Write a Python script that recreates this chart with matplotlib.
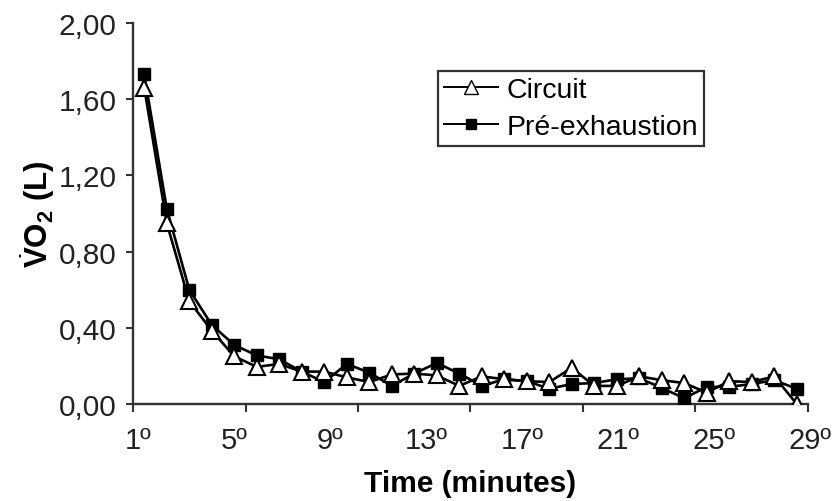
import numpy as np
import matplotlib
matplotlib.use("Agg")
import matplotlib.pyplot as plt
from matplotlib.lines import Line2D

plt.rcParams['font.family'] = ['Liberation Sans', 'DejaVu Sans']
plt.rcParams['mathtext.fontset'] = 'custom'
plt.rcParams['mathtext.rm'] = 'Liberation Sans'
plt.rcParams['mathtext.bf'] = 'Liberation Sans:bold'
plt.rcParams['mathtext.it'] = 'Liberation Sans:italic'

# minutes 1..30
minutes = np.arange(1, 31)
circuit = [1.66, 0.95, 0.54, 0.385, 0.25, 0.195, 0.21, 0.17, 0.17, 0.14,
           0.115, 0.155, 0.16, 0.15, 0.095, 0.145, 0.13, 0.12, 0.115, 0.19,
           0.095, 0.095, 0.145, 0.125, 0.11, 0.06, 0.12, 0.115, 0.145, 0.0]
pre_exh = [1.73, 1.026, 0.60, 0.415, 0.31, 0.255, 0.235, 0.17, 0.115, 0.21,
           0.165, 0.095, 0.16, 0.215, 0.16, 0.095, 0.13, 0.12, 0.08, 0.105,
           0.11, 0.13, 0.135, 0.085, 0.03, 0.09, 0.09, 0.105, 0.125, 0.08]
label_minutes = [1, 5, 9, 13, 17, 21, 25, 29]
yticks = [0.0, 0.4, 0.8, 1.2, 1.6, 2.0]

fig = plt.figure(figsize=(8.32, 5.02), dpi=100)
ax = fig.add_axes([133/832, 1-405/502, 675/832, 381/502])

ax.plot(minutes, pre_exh, color='black', lw=1.9, marker='s', ms=8,
        mfc='black', mec='black', zorder=3)
ax.plot(minutes, circuit, color='black', lw=1.9, marker='^', ms=11,
        mfc='white', mec='black', mew=1.5, zorder=4)

ax.set_xlim(0.5, 30.5)
ax.set_ylim(0, 2.0)

for s in ['top', 'right']:
    ax.spines[s].set_visible(False)
for s in ['left', 'bottom']:
    ax.spines[s].set_linewidth(1.7)
    ax.spines[s].set_color('#333333')

# tick marks every 5 minutes on category boundaries
ax.set_xticks(np.arange(0.5, 31, 5))
ax.set_xticklabels([])
ax.tick_params(axis='x', direction='out', length=6, width=1.5, color='#333333')
for m in label_minutes:
    f = 0.0074 + (m - 1) / 28 * (1.003 - 0.0074)
    ax.text(f, -0.094, '%dº' % m, transform=ax.transAxes, ha='center',
            va='center', fontsize=21, color='#222222')

ax.set_yticks(yticks)
ax.set_yticklabels([('%.2f' % v).replace('.', ',') for v in yticks])
ax.tick_params(axis='y', direction='out', length=5, width=1.5, color='#333333',
               labelsize=21.5, labelcolor='#222222', pad=7)

ax.set_xlabel('Time (minutes)', fontsize=21.5, fontweight='bold', labelpad=37)
ax.set_ylabel(r'$\dot{\mathbf{V}}\mathbf{O}_{\mathbf{2}}\ \mathbf{(L)}$',
              fontsize=22.5, labelpad=1)

handles = [Line2D([], [], color='black', lw=1.4, marker='^', ms=9.5, mfc='white',
                  mec='black'),
           Line2D([], [], color='black', lw=1.4, marker='s', ms=7, mfc='black')]
leg = ax.legend(handles, ['Circuit', 'Pré-exhaustion'], loc='upper left',
                bbox_to_anchor=(0.452, 0.874), borderaxespad=0, fontsize=20.5,
                frameon=True, fancybox=False, framealpha=1, borderpad=0.2,
                handlelength=1.9, handletextpad=0.3, labelspacing=0.4)
leg.get_frame().set_edgecolor('#333333')
leg.get_frame().set_linewidth(1.6)

fig.savefig('out.png', dpi=100)
